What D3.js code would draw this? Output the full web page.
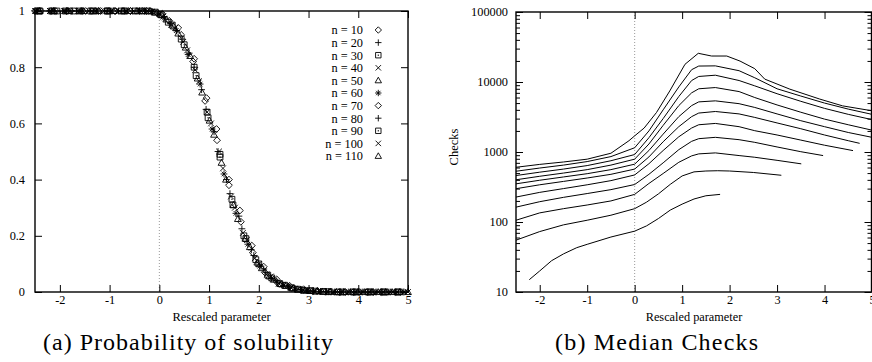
<!DOCTYPE html>
<html><head><meta charset="utf-8">
<script src="https://cdn.jsdelivr.net/npm/d3@7"></script>
<style>body{margin:0;background:#fff} svg{display:block}</style>
</head><body>
<svg id="c" width="872" height="362"></svg>
<script>
// ---------- data ----------
const seriesNames = ["n = 10","n = 20","n = 30","n = 40","n = 50","n = 60","n = 70","n = 80","n = 90","n = 100","n = 110"];
const symbolKinds = ["diamond","plus","box","cross","triangle","star","diamond","plus","box","cross","triangle"];
const paramTicks = [-2,-1,0,1,2,3,4,5];
const probTicks = [0,0.2,0.4,0.6,0.8,1];
const checkTicks = [10,100,1000,10000,100000];

// (a) probability of solubility, [rescaled parameter, probability]
const probN10 = [[-2.5,1],[-2.18,1],[-1.86,1],[-1.54,1],[-1.22,1],[-0.9,1],[-0.58,1],[-0.26,1],[0.06,0.99],[0.38,0.94],[0.7,0.83],[0.95,0.69],[1.15,0.58],[1.4,0.40],[1.62,0.29],[1.86,0.165],[2.1,0.09],[2.36,0.045],[2.62,0.022],[2.9,0.01],[3.18,0.004],[3.46,0.002],[3.74,0],[4.02,0],[4.3,0],[4.58,0],[4.86,0]];
const probN20 = [[-2.45,1],[-2.1,1],[-1.75,1],[-1.4,1],[-1.05,1],[-0.7,1],[-0.4,1],[-0.15,0.998],[0.1,0.98],[0.35,0.93],[0.6,0.85],[0.85,0.72],[1.1,0.57],[1.35,0.40],[1.6,0.27],[1.85,0.15],[2.1,0.082],[2.35,0.04],[2.6,0.02],[2.85,0.009],[3.1,0.004],[3.4,0.001],[3.7,0],[4.0,0],[4.3,0],[4.6,0],[4.9,0]];
const probN30 = [[-2.4,1],[-2.06,1],[-1.72,1],[-1.38,1],[-1.04,1],[-0.7,1],[-0.36,1],[-0.08,0.996],[0.18,0.96],[0.44,0.90],[0.7,0.80],[0.96,0.64],[1.22,0.49],[1.48,0.31],[1.74,0.19],[2.0,0.10],[2.26,0.05],[2.52,0.024],[2.78,0.01],[3.04,0.005],[3.3,0.002],[3.6,0],[3.9,0],[4.2,0],[4.5,0],[4.8,0]];
const probN40 = [[-2.5,1],[-2.2,1],[-1.9,1],[-1.6,1],[-1.3,1],[-1.0,1],[-0.7,1],[-0.42,1],[-0.16,0.998],[0.08,0.98],[0.32,0.94],[0.56,0.86],[0.8,0.75],[1.04,0.60],[1.28,0.44],[1.52,0.30],[1.76,0.185],[2.0,0.10],[2.24,0.055],[2.48,0.026],[2.72,0.012],[2.96,0.005],[3.22,0.002],[3.5,0.001],[3.8,0],[4.1,0],[4.4,0],[4.7,0],[5.0,0]];
const probN50 = [[-2.42,1],[-2.12,1],[-1.82,1],[-1.52,1],[-1.22,1],[-0.92,1],[-0.62,1],[-0.34,1],[-0.1,0.995],[0.14,0.97],[0.38,0.92],[0.62,0.84],[0.86,0.71],[1.1,0.56],[1.34,0.40],[1.58,0.26],[1.82,0.16],[2.06,0.085],[2.3,0.044],[2.54,0.022],[2.78,0.009],[3.02,0.004],[3.28,0.001],[3.56,0],[3.84,0],[4.12,0],[4.4,0],[4.68,0],[5.0,0]];
const probN60 = [[-2.47,1],[-2.17,1],[-1.87,1],[-1.57,1],[-1.27,1],[-0.97,1],[-0.67,1],[-0.4,1],[-0.14,0.997],[0.1,0.975],[0.34,0.93],[0.58,0.845],[0.82,0.74],[1.06,0.58],[1.3,0.42],[1.54,0.28],[1.78,0.17],[2.02,0.092],[2.26,0.048],[2.5,0.024],[2.74,0.011],[2.98,0.005],[3.24,0.002],[3.52,0],[3.8,0],[4.08,0],[4.36,0],[4.64,0],[4.92,0]];
const probN70 = [[-2.38,1],[-2.08,1],[-1.78,1],[-1.48,1],[-1.18,1],[-0.88,1],[-0.58,1],[-0.3,1],[-0.04,0.993],[0.2,0.965],[0.44,0.915],[0.68,0.82],[0.92,0.68],[1.16,0.54],[1.4,0.38],[1.64,0.25],[1.88,0.14],[2.12,0.07],[2.36,0.036],[2.6,0.018],[2.84,0.008],[3.08,0.003],[3.34,0.001],[3.62,0],[3.9,0],[4.18,0],[4.46,0],[4.74,0]];
const probN80 = [[-2.5,1],[-2.22,1],[-1.94,1],[-1.66,1],[-1.38,1],[-1.1,1],[-0.82,1],[-0.54,1],[-0.27,1],[-0.02,0.99],[0.22,0.955],[0.46,0.90],[0.7,0.80],[0.94,0.65],[1.18,0.50],[1.42,0.35],[1.66,0.225],[1.9,0.13],[2.14,0.07],[2.38,0.033],[2.62,0.017],[2.86,0.007],[3.1,0.003],[3.36,0.001],[3.64,0],[3.92,0],[4.2,0],[4.48,0],[4.76,0]];
const probN90 = [[-2.44,1],[-2.16,1],[-1.88,1],[-1.6,1],[-1.32,1],[-1.04,1],[-0.76,1],[-0.48,1],[-0.22,1],[0.02,0.988],[0.26,0.95],[0.5,0.88],[0.74,0.77],[0.98,0.62],[1.22,0.48],[1.46,0.33],[1.7,0.20],[1.94,0.115],[2.18,0.06],[2.42,0.03],[2.66,0.015],[2.9,0.006],[3.14,0.003],[3.4,0.001],[3.68,0],[3.96,0],[4.24,0],[4.52,0],[4.8,0]];
const probN100 = [[-2.48,1],[-2.2,1],[-1.92,1],[-1.64,1],[-1.36,1],[-1.08,1],[-0.8,1],[-0.52,1],[-0.25,1],[0.0,0.99],[0.24,0.95],[0.48,0.89],[0.72,0.79],[0.96,0.64],[1.2,0.50],[1.44,0.34],[1.68,0.21],[1.92,0.12],[2.16,0.062],[2.4,0.03],[2.64,0.016],[2.88,0.007],[3.12,0.003],[3.38,0.001],[3.66,0],[3.94,0],[4.22,0],[4.5,0],[4.78,0]];
const probN110 = [[-2.41,1],[-2.13,1],[-1.85,1],[-1.57,1],[-1.29,1],[-1.01,1],[-0.73,1],[-0.45,1],[-0.19,1],[0.05,0.985],[0.29,0.945],[0.53,0.87],[0.77,0.76],[1.01,0.61],[1.25,0.46],[1.49,0.31],[1.73,0.19],[1.97,0.105],[2.21,0.056],[2.45,0.028],[2.69,0.013],[2.93,0.006],[3.17,0.003],[3.43,0.001],[3.71,0],[3.99,0],[4.27,0],[4.55,0],[4.83,0]];

// (b) median checks, [rescaled parameter, checks]
const checksN10 = [[-2.22,15],[-2,20],[-1.75,28],[-1.5,35],[-1.22,43],[-1,48],[-0.5,61],[0,74],[0.25,88],[0.5,112],[0.75,148],[1.0,180],[1.25,213],[1.5,237],[1.8,248]];
const checksN20 = [[-2.5,55],[-2,73],[-1.5,91],[-1,106],[-0.5,125],[0,155],[0.25,192],[0.5,252],[0.75,345],[1.0,455],[1.25,520],[1.5,535],[1.75,540],[2.0,535],[2.5,510],[3.09,465]];
const checksN30 = [[-2.5,106],[-2,135],[-1.5,155],[-1,175],[-0.5,200],[0,248],[0.3,355],[0.6,493],[0.93,713],[1.2,880],[1.35,940],[1.7,971],[2.2,889],[2.53,841],[3.0,760],[3.51,677]];
const checksN40 = [[-2.5,163],[-2,195],[-1.5,225],[-1,255],[-0.5,290],[0,343],[0.3,480],[0.6,700],[0.93,1080],[1.2,1420],[1.35,1550],[1.7,1620],[2.2,1500],[2.53,1374],[3.0,1180],[3.5,1010],[3.97,889]];
const checksN50 = [[-2.5,227],[-2,265],[-1.5,300],[-1,340],[-0.5,390],[0,470],[0.3,680],[0.6,1050],[0.93,1650],[1.2,2200],[1.35,2450],[1.7,2560],[2.2,2300],[2.53,2015],[3.0,1750],[3.5,1480],[4.0,1250],[4.6,1047]];
const checksN60 = [[-2.5,299],[-2,340],[-1.5,380],[-1,425],[-0.5,480],[0,570],[0.3,850],[0.6,1400],[0.93,2300],[1.2,3200],[1.35,3600],[1.7,3790],[2.2,3500],[2.53,3120],[3.0,2600],[3.5,2150],[4.0,1750],[4.5,1450],[4.74,1330]];
const checksN70 = [[-2.5,351],[-2,395],[-1.5,440],[-1,490],[-0.5,560],[0,670],[0.3,1050],[0.6,1800],[0.93,3200],[1.2,4600],[1.35,5200],[1.7,5380],[2.2,4900],[2.53,4330],[3.0,3500],[3.5,2800],[4.0,2300],[4.5,1900],[5.0,1620]];
const checksN80 = [[-2.5,401],[-2,450],[-1.5,500],[-1,560],[-0.5,650],[0,790],[0.3,1300],[0.6,2400],[0.93,4600],[1.2,7000],[1.35,8000],[1.7,8330],[2.2,7300],[2.53,6000],[3.0,4700],[3.5,3700],[4.0,2950],[4.5,2450],[5.0,2050]];
const checksN90 = [[-2.5,461],[-2,515],[-1.5,570],[-1,640],[-0.5,750],[0,920],[0.3,1600],[0.6,3000],[0.93,6200],[1.2,10500],[1.35,12000],[1.7,12500],[2.2,10500],[2.53,8810],[3.0,6800],[3.5,5300],[4.0,4200],[4.5,3450],[5.0,2900]];
const checksN100 = [[-2.5,531],[-2,590],[-1.5,650],[-1,730],[-0.5,860],[0,1150],[0.3,2000],[0.6,4000],[0.93,8500],[1.2,15000],[1.35,16900],[1.7,17000],[2.2,14500],[2.53,11500],[3.0,8000],[3.5,6300],[4.0,5000],[4.5,4100],[5.0,3450]];
const checksN110 = [[-2.5,605],[-2,665],[-1.5,720],[-1,790],[-0.5,960],[-0.12,1450],[0,1700],[0.2,2200],[0.46,3670],[0.74,7460],[1.06,17900],[1.34,25700],[1.62,23500],[1.94,23500],[2.22,19900],[2.53,15500],[2.74,11000],[3.27,7900],[3.9,5700],[4.38,4560],[5.0,3880]];

const probSeries = [probN10,probN20,probN30,probN40,probN50,probN60,probN70,probN80,probN90,probN100,probN110];
const checkSeries = [checksN10,checksN20,checksN30,checksN40,checksN50,checksN60,checksN70,checksN80,checksN90,checksN100,checksN110];

// ---------- drawing ----------
const svg = d3.select("#c");
const serif = "'Liberation Serif'";
const FS = 12.3;

function symbolPath(kind, s){
  const t = s*0.85;
  switch(kind){
    case "diamond": return `M0,${-s}L${s},0L0,${s}L${-s},0Z`;
    case "plus": return `M${-s},0H${s}M0,${-s}V${s}`;
    case "box": return `M${-t},${-t}H${t}V${t}H${-t}Z`;
    case "cross": return `M${-t},${-t}L${t},${t}M${-t},${t}L${t},${-t}`;
    case "triangle": return `M0,${-s}L${s},${s*0.75}L${-s},${s*0.75}Z`;
    case "star": return `M${-s},0H${s}M0,${-s}V${s}M${-t*0.8},${-t*0.8}L${t*0.8},${t*0.8}M${-t*0.8},${t*0.8}L${t*0.8},${-t*0.8}`;
  }
}
function drawSymbol(g, kind, x, y, s){
  g.append("path").attr("d", symbolPath(kind,s)).attr("transform",`translate(${x},${y})`)
    .attr("fill","none").attr("stroke","#000").attr("stroke-width",0.9);
  if(kind==="box") g.append("rect").attr("x",x-0.6).attr("y",y-0.6).attr("width",1.2).attr("height",1.2).attr("fill","#000");
}
function styleAxis(g){
  g.select(".domain").remove();
  g.attr("font-family",null).attr("font-size",null);
  g.selectAll("text").style("font-family",serif).style("font-size",FS+"px").attr("fill","#000");
  g.selectAll("line").attr("stroke","#000").attr("stroke-width",1);
}
function txt(sel, size){ return sel.style("font-family",serif).style("font-size",size+"px").attr("fill","#000"); }
const fmt = d => String(d);

// ===== Panel (a) =====
const xA = d3.scaleLinear().domain([-2.5,5]).range([35,408]);
const yA = d3.scaleLinear().domain([0,1]).range([292,11]);

svg.append("line").attr("x1",xA(0)).attr("x2",xA(0)).attr("y1",yA(1)).attr("y2",yA(0))
  .attr("stroke","#999").attr("stroke-dasharray","1,2").attr("stroke-width",1);

svg.append("g").attr("transform",`translate(0,${yA(0)})`)
  .call(d3.axisBottom(xA).tickValues(paramTicks).tickSizeInner(-7).tickSizeOuter(0).tickPadding(3).tickFormat(fmt)).call(styleAxis);
svg.append("g").attr("transform",`translate(0,${yA(1)})`)
  .call(d3.axisTop(xA).tickValues(paramTicks).tickSizeInner(-7).tickSizeOuter(0).tickFormat("")).call(styleAxis);
svg.append("g").attr("transform",`translate(${xA(-2.5)},0)`)
  .call(d3.axisLeft(yA).tickValues(probTicks).tickSizeInner(-7).tickSizeOuter(0).tickPadding(10).tickFormat(fmt)).call(styleAxis);
svg.append("g").attr("transform",`translate(${xA(5)},0)`)
  .call(d3.axisRight(yA).tickValues(probTicks).tickSizeInner(-7).tickSizeOuter(0).tickFormat("")).call(styleAxis);

svg.append("rect").attr("x",xA(-2.5)).attr("y",yA(1)).attr("width",xA(5)-xA(-2.5)).attr("height",yA(0)-yA(1))
  .attr("fill","none").attr("stroke","#000").attr("stroke-width",1.4);

const gPts = svg.append("g");
probSeries.forEach((ser,i)=>{
  ser.forEach(d=>drawSymbol(gPts, symbolKinds[i], xA(d[0]), yA(d[1]), 3.4));
});

// legend
const legY = d3.scalePoint().domain(seriesNames).range([30,156]);
const gLeg = svg.append("g");
seriesNames.forEach((nm,i)=>{
  txt(gLeg.append("text").attr("x",363).attr("y",legY(nm)).attr("dy","0.35em").attr("text-anchor","end"), FS).text(nm);
  drawSymbol(gLeg, symbolKinds[i], 378.3, legY(nm), 3.2);
});

txt(svg.append("text").attr("x",(xA(-2.5)+xA(5))/2).attr("y",321).attr("text-anchor","middle"),12.5).text("Rescaled parameter");
txt(svg.append("text").attr("x",43).attr("y",350).attr("textLength",290).attr("lengthAdjust","spacing"),24).text("(a) Probability of solubility");

// ===== Panel (b) =====
const xB = d3.scaleLinear().domain([-2.5,5]).range([516,872]);
const yB = d3.scaleLog().domain([10,100000]).range([292,12]);
const minorTicks = yB.ticks().filter(v => !checkTicks.includes(v));

svg.append("defs").append("clipPath").attr("id","clipB").append("rect")
  .attr("x",xB(-2.5)).attr("y",yB(100000)).attr("width",xB(5)-xB(-2.5)).attr("height",yB(10)-yB(100000));

svg.append("line").attr("x1",xB(0)).attr("x2",xB(0)).attr("y1",yB(100000)).attr("y2",yB(10))
  .attr("stroke","#999").attr("stroke-dasharray","1,2").attr("stroke-width",1);

svg.append("g").attr("transform",`translate(0,${yB(10)})`)
  .call(d3.axisBottom(xB).tickValues(paramTicks).tickSizeInner(-7).tickSizeOuter(0).tickPadding(3).tickFormat(fmt)).call(styleAxis);
svg.append("g").attr("transform",`translate(0,${yB(100000)})`)
  .call(d3.axisTop(xB).tickValues(paramTicks).tickSizeInner(-7).tickSizeOuter(0).tickFormat("")).call(styleAxis);
svg.append("g").attr("transform",`translate(${xB(-2.5)},0)`)
  .call(d3.axisLeft(yB).tickValues(checkTicks).tickSizeInner(-7).tickSizeOuter(0).tickPadding(8).tickFormat(fmt)).call(styleAxis);
svg.append("g").attr("transform",`translate(${xB(-2.5)},0)`)
  .call(d3.axisLeft(yB).tickValues(minorTicks).tickSizeInner(-4).tickSizeOuter(0).tickFormat("")).call(styleAxis);
svg.append("g").attr("transform",`translate(${xB(5)-0.5},0)`)
  .call(d3.axisRight(yB).tickValues(checkTicks).tickSizeInner(-7).tickSizeOuter(0).tickFormat("")).call(styleAxis);
svg.append("g").attr("transform",`translate(${xB(5)-0.5},0)`)
  .call(d3.axisRight(yB).tickValues(minorTicks).tickSizeInner(-4).tickSizeOuter(0).tickFormat("")).call(styleAxis);

svg.append("rect").attr("x",xB(-2.5)).attr("y",yB(100000)).attr("width",xB(5)-xB(-2.5)-0.5).attr("height",yB(10)-yB(100000))
  .attr("fill","none").attr("stroke","#000").attr("stroke-width",1.4);

const line = d3.line().x(d=>xB(d[0])).y(d=>yB(d[1]));
svg.append("g").attr("clip-path","url(#clipB)").selectAll("path").data(checkSeries).join("path")
  .attr("d",line).attr("fill","none").attr("stroke","#000").attr("stroke-width",1);

txt(svg.append("text").attr("transform",`translate(458,147) rotate(-90)`).attr("text-anchor","middle"),12.5).text("Checks");
txt(svg.append("text").attr("x",(xB(-2.5)+xB(5))/2).attr("y",321).attr("text-anchor","middle"),12.3).text("Rescaled parameter");
txt(svg.append("text").attr("x",555).attr("y",350).attr("textLength",203).attr("lengthAdjust","spacing"),24).text("(b) Median Checks");
</script>
</body></html>
